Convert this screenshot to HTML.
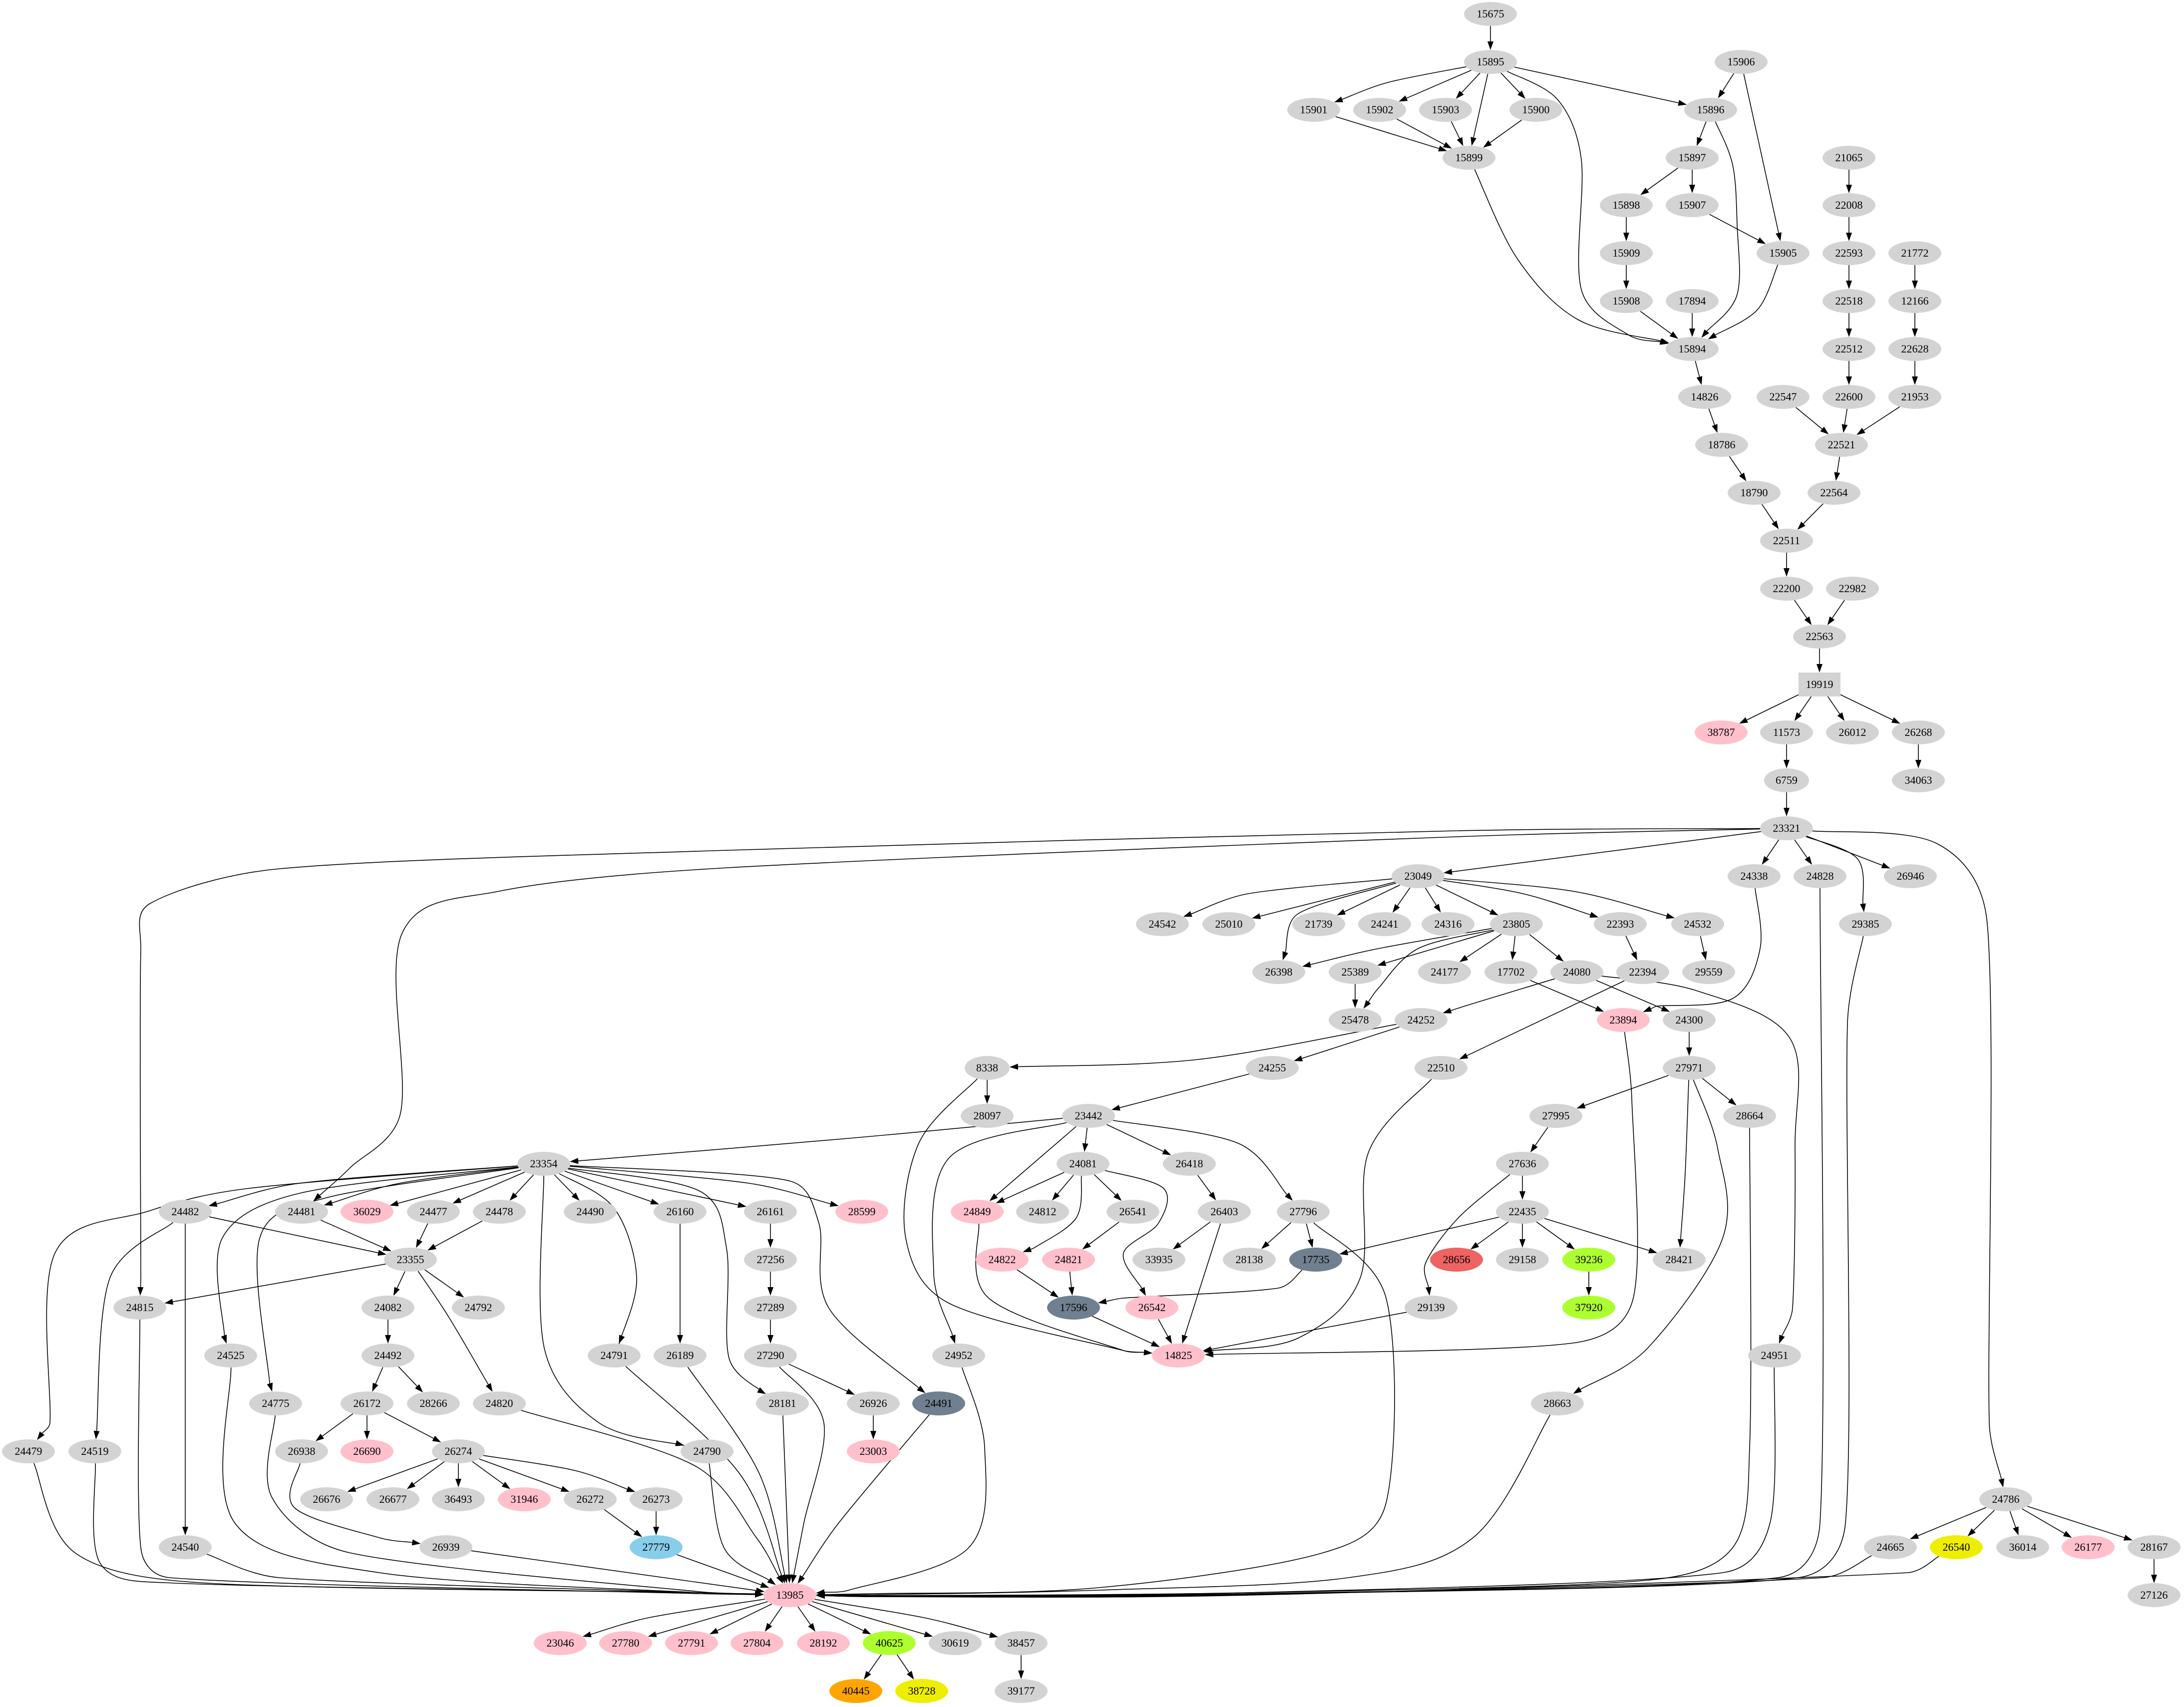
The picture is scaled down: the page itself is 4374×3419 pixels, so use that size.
<!DOCTYPE html>
<html><head><meta charset="utf-8"><style>
html,body{margin:0;padding:0;background:#fff}
svg{display:block}
text{font-family:"Liberation Serif","DejaVu Serif",serif;font-size:22px;text-anchor:middle;fill:#000}
</style></head><body>
<svg id="s" width="4374" height="3419" viewBox="0 0 4374 3419" xmlns="http://www.w3.org/2000/svg">
<rect width="4374" height="3419" fill="#fff"/>
<g id="edges"></g>
<g id="nodes">
<ellipse id="n15675" cx="2985" cy="28" rx="53" ry="24" fill="#d3d3d3"/><text x="2985" y="35">15675</text>
<ellipse id="n15895" cx="2985" cy="124" rx="53" ry="24" fill="#d3d3d3"/><text x="2985" y="131">15895</text>
<ellipse id="n15906" cx="3487" cy="124" rx="53" ry="24" fill="#d3d3d3"/><text x="3487" y="131">15906</text>
<ellipse id="n15901" cx="2631" cy="220" rx="53" ry="24" fill="#d3d3d3"/><text x="2631" y="227">15901</text>
<ellipse id="n15902" cx="2763" cy="220" rx="53" ry="24" fill="#d3d3d3"/><text x="2763" y="227">15902</text>
<ellipse id="n15903" cx="2895" cy="220" rx="53" ry="24" fill="#d3d3d3"/><text x="2895" y="227">15903</text>
<ellipse id="n15900" cx="3076" cy="220" rx="53" ry="24" fill="#d3d3d3"/><text x="3076" y="227">15900</text>
<ellipse id="n15896" cx="3426" cy="220" rx="53" ry="24" fill="#d3d3d3"/><text x="3426" y="227">15896</text>
<ellipse id="n15899" cx="2942" cy="316" rx="53" ry="24" fill="#d3d3d3"/><text x="2942" y="323">15899</text>
<ellipse id="n15897" cx="3389" cy="316" rx="53" ry="24" fill="#d3d3d3"/><text x="3389" y="323">15897</text>
<ellipse id="n21065" cx="3703" cy="316" rx="53" ry="24" fill="#d3d3d3"/><text x="3703" y="323">21065</text>
<ellipse id="n15898" cx="3257" cy="411" rx="53" ry="24" fill="#d3d3d3"/><text x="3257" y="418">15898</text>
<ellipse id="n15907" cx="3389" cy="411" rx="53" ry="24" fill="#d3d3d3"/><text x="3389" y="418">15907</text>
<ellipse id="n22008" cx="3703" cy="411" rx="53" ry="24" fill="#d3d3d3"/><text x="3703" y="418">22008</text>
<ellipse id="n15909" cx="3257" cy="507" rx="53" ry="24" fill="#d3d3d3"/><text x="3257" y="514">15909</text>
<ellipse id="n15905" cx="3571" cy="507" rx="53" ry="24" fill="#d3d3d3"/><text x="3571" y="514">15905</text>
<ellipse id="n22593" cx="3703" cy="507" rx="53" ry="24" fill="#d3d3d3"/><text x="3703" y="514">22593</text>
<ellipse id="n21772" cx="3835" cy="507" rx="53" ry="24" fill="#d3d3d3"/><text x="3835" y="514">21772</text>
<ellipse id="n15908" cx="3257" cy="603" rx="53" ry="24" fill="#d3d3d3"/><text x="3257" y="610">15908</text>
<ellipse id="n17894" cx="3389" cy="603" rx="53" ry="24" fill="#d3d3d3"/><text x="3389" y="610">17894</text>
<ellipse id="n22518" cx="3703" cy="603" rx="53" ry="24" fill="#d3d3d3"/><text x="3703" y="610">22518</text>
<ellipse id="n12166" cx="3835" cy="603" rx="53" ry="24" fill="#d3d3d3"/><text x="3835" y="610">12166</text>
<ellipse id="n15894" cx="3389" cy="699" rx="53" ry="24" fill="#d3d3d3"/><text x="3389" y="706">15894</text>
<ellipse id="n22512" cx="3703" cy="699" rx="53" ry="24" fill="#d3d3d3"/><text x="3703" y="706">22512</text>
<ellipse id="n22628" cx="3835" cy="699" rx="53" ry="24" fill="#d3d3d3"/><text x="3835" y="706">22628</text>
<ellipse id="n14826" cx="3414" cy="795" rx="53" ry="24" fill="#d3d3d3"/><text x="3414" y="802">14826</text>
<ellipse id="n22547" cx="3571" cy="795" rx="53" ry="24" fill="#d3d3d3"/><text x="3571" y="802">22547</text>
<ellipse id="n22600" cx="3703" cy="795" rx="53" ry="24" fill="#d3d3d3"/><text x="3703" y="802">22600</text>
<ellipse id="n21953" cx="3835" cy="795" rx="53" ry="24" fill="#d3d3d3"/><text x="3835" y="802">21953</text>
<ellipse id="n18786" cx="3448" cy="891" rx="53" ry="24" fill="#d3d3d3"/><text x="3448" y="898">18786</text>
<ellipse id="n22521" cx="3688" cy="891" rx="53" ry="24" fill="#d3d3d3"/><text x="3688" y="898">22521</text>
<ellipse id="n18790" cx="3513" cy="987" rx="53" ry="24" fill="#d3d3d3"/><text x="3513" y="994">18790</text>
<ellipse id="n22564" cx="3673" cy="987" rx="53" ry="24" fill="#d3d3d3"/><text x="3673" y="994">22564</text>
<ellipse id="n22511" cx="3578" cy="1083" rx="53" ry="24" fill="#d3d3d3"/><text x="3578" y="1090">22511</text>
<ellipse id="n22200" cx="3578" cy="1179" rx="53" ry="24" fill="#d3d3d3"/><text x="3578" y="1186">22200</text>
<ellipse id="n22982" cx="3710" cy="1179" rx="53" ry="24" fill="#d3d3d3"/><text x="3710" y="1186">22982</text>
<ellipse id="n22563" cx="3644" cy="1275" rx="53" ry="24" fill="#d3d3d3"/><text x="3644" y="1282">22563</text>
<rect x="3602" y="1347" width="84" height="48" fill="#d3d3d3"/><ellipse id="n19919" cx="3644" cy="1371" rx="42" ry="24" fill="none"/><text x="3644" y="1378">19919</text>
<ellipse id="n38787" cx="3447" cy="1467" rx="53" ry="24" fill="#ffc0cb"/><text x="3447" y="1474">38787</text>
<ellipse id="n11573" cx="3578" cy="1467" rx="53" ry="24" fill="#d3d3d3"/><text x="3578" y="1474">11573</text>
<ellipse id="n26012" cx="3710" cy="1467" rx="53" ry="24" fill="#d3d3d3"/><text x="3710" y="1474">26012</text>
<ellipse id="n26268" cx="3842" cy="1467" rx="53" ry="24" fill="#d3d3d3"/><text x="3842" y="1474">26268</text>
<ellipse id="n6759" cx="3578" cy="1563" rx="45" ry="24" fill="#d3d3d3"/><text x="3578" y="1570">6759</text>
<ellipse id="n34063" cx="3842" cy="1563" rx="53" ry="24" fill="#d3d3d3"/><text x="3842" y="1570">34063</text>
<ellipse id="n23321" cx="3578" cy="1659" rx="53" ry="24" fill="#d3d3d3"/><text x="3578" y="1666">23321</text>
<ellipse id="n23049" cx="2840" cy="1755" rx="53" ry="24" fill="#d3d3d3"/><text x="2840" y="1762">23049</text>
<ellipse id="n24338" cx="3513" cy="1755" rx="53" ry="24" fill="#d3d3d3"/><text x="3513" y="1762">24338</text>
<ellipse id="n24828" cx="3645" cy="1755" rx="53" ry="24" fill="#d3d3d3"/><text x="3645" y="1762">24828</text>
<ellipse id="n26946" cx="3826" cy="1755" rx="53" ry="24" fill="#d3d3d3"/><text x="3826" y="1762">26946</text>
<ellipse id="n24542" cx="2328" cy="1851" rx="53" ry="24" fill="#d3d3d3"/><text x="2328" y="1858">24542</text>
<ellipse id="n25010" cx="2461" cy="1851" rx="53" ry="24" fill="#d3d3d3"/><text x="2461" y="1858">25010</text>
<ellipse id="n21739" cx="2641" cy="1851" rx="53" ry="24" fill="#d3d3d3"/><text x="2641" y="1858">21739</text>
<ellipse id="n24241" cx="2773" cy="1851" rx="53" ry="24" fill="#d3d3d3"/><text x="2773" y="1858">24241</text>
<ellipse id="n24316" cx="2900" cy="1851" rx="53" ry="24" fill="#d3d3d3"/><text x="2900" y="1858">24316</text>
<ellipse id="n23805" cx="3037" cy="1851" rx="53" ry="24" fill="#d3d3d3"/><text x="3037" y="1858">23805</text>
<ellipse id="n22393" cx="3245" cy="1851" rx="53" ry="24" fill="#d3d3d3"/><text x="3245" y="1858">22393</text>
<ellipse id="n24532" cx="3400" cy="1851" rx="53" ry="24" fill="#d3d3d3"/><text x="3400" y="1858">24532</text>
<ellipse id="n29385" cx="3736" cy="1851" rx="53" ry="24" fill="#d3d3d3"/><text x="3736" y="1858">29385</text>
<ellipse id="n26398" cx="2561" cy="1947" rx="53" ry="24" fill="#d3d3d3"/><text x="2561" y="1954">26398</text>
<ellipse id="n25389" cx="2714" cy="1947" rx="53" ry="24" fill="#d3d3d3"/><text x="2714" y="1954">25389</text>
<ellipse id="n24177" cx="2893" cy="1947" rx="53" ry="24" fill="#d3d3d3"/><text x="2893" y="1954">24177</text>
<ellipse id="n17702" cx="3026" cy="1947" rx="53" ry="24" fill="#d3d3d3"/><text x="3026" y="1954">17702</text>
<ellipse id="n24080" cx="3158" cy="1947" rx="53" ry="24" fill="#d3d3d3"/><text x="3158" y="1954">24080</text>
<ellipse id="n22394" cx="3290" cy="1947" rx="53" ry="24" fill="#d3d3d3"/><text x="3290" y="1954">22394</text>
<ellipse id="n29559" cx="3422" cy="1947" rx="53" ry="24" fill="#d3d3d3"/><text x="3422" y="1954">29559</text>
<ellipse id="n25478" cx="2714" cy="2043" rx="53" ry="24" fill="#d3d3d3"/><text x="2714" y="2050">25478</text>
<ellipse id="n24252" cx="2846" cy="2043" rx="53" ry="24" fill="#d3d3d3"/><text x="2846" y="2050">24252</text>
<ellipse id="n23894" cx="3251" cy="2043" rx="53" ry="24" fill="#ffc0cb"/><text x="3251" y="2050">23894</text>
<ellipse id="n24300" cx="3383" cy="2043" rx="53" ry="24" fill="#d3d3d3"/><text x="3383" y="2050">24300</text>
<ellipse id="n8338" cx="1977" cy="2139" rx="45" ry="24" fill="#d3d3d3"/><text x="1977" y="2146">8338</text>
<ellipse id="n24255" cx="2548" cy="2139" rx="53" ry="24" fill="#d3d3d3"/><text x="2548" y="2146">24255</text>
<ellipse id="n22510" cx="2886" cy="2139" rx="53" ry="24" fill="#d3d3d3"/><text x="2886" y="2146">22510</text>
<ellipse id="n27971" cx="3383" cy="2139" rx="53" ry="24" fill="#d3d3d3"/><text x="3383" y="2146">27971</text>
<ellipse id="n28097" cx="1977" cy="2235" rx="53" ry="24" fill="#d3d3d3"/><text x="1977" y="2242">28097</text>
<ellipse id="n23442" cx="2180" cy="2235" rx="53" ry="24" fill="#d3d3d3"/><text x="2180" y="2242">23442</text>
<ellipse id="n27995" cx="3116" cy="2235" rx="53" ry="24" fill="#d3d3d3"/><text x="3116" y="2242">27995</text>
<ellipse id="n28664" cx="3504" cy="2235" rx="53" ry="24" fill="#d3d3d3"/><text x="3504" y="2242">28664</text>
<ellipse id="n23354" cx="1089" cy="2331" rx="53" ry="24" fill="#d3d3d3"/><text x="1089" y="2338">23354</text>
<ellipse id="n24081" cx="2169" cy="2331" rx="53" ry="24" fill="#d3d3d3"/><text x="2169" y="2338">24081</text>
<ellipse id="n26418" cx="2382" cy="2331" rx="53" ry="24" fill="#d3d3d3"/><text x="2382" y="2338">26418</text>
<ellipse id="n27636" cx="3049" cy="2331" rx="53" ry="24" fill="#d3d3d3"/><text x="3049" y="2338">27636</text>
<ellipse id="n24482" cx="371" cy="2427" rx="53" ry="24" fill="#d3d3d3"/><text x="371" y="2434">24482</text>
<ellipse id="n24481" cx="604" cy="2427" rx="53" ry="24" fill="#d3d3d3"/><text x="604" y="2434">24481</text>
<ellipse id="n36029" cx="735" cy="2427" rx="53" ry="24" fill="#ffc0cb"/><text x="735" y="2434">36029</text>
<ellipse id="n24477" cx="868" cy="2427" rx="53" ry="24" fill="#d3d3d3"/><text x="868" y="2434">24477</text>
<ellipse id="n24478" cx="1000" cy="2427" rx="53" ry="24" fill="#d3d3d3"/><text x="1000" y="2434">24478</text>
<ellipse id="n24490" cx="1182" cy="2427" rx="53" ry="24" fill="#d3d3d3"/><text x="1182" y="2434">24490</text>
<ellipse id="n26160" cx="1362" cy="2427" rx="53" ry="24" fill="#d3d3d3"/><text x="1362" y="2434">26160</text>
<ellipse id="n26161" cx="1543" cy="2427" rx="53" ry="24" fill="#d3d3d3"/><text x="1543" y="2434">26161</text>
<ellipse id="n28599" cx="1726" cy="2427" rx="53" ry="24" fill="#ffc0cb"/><text x="1726" y="2434">28599</text>
<ellipse id="n24849" cx="1957" cy="2427" rx="53" ry="24" fill="#ffc0cb"/><text x="1957" y="2434">24849</text>
<ellipse id="n24812" cx="2088" cy="2427" rx="53" ry="24" fill="#d3d3d3"/><text x="2088" y="2434">24812</text>
<ellipse id="n26541" cx="2269" cy="2427" rx="53" ry="24" fill="#d3d3d3"/><text x="2269" y="2434">26541</text>
<ellipse id="n26403" cx="2452" cy="2427" rx="53" ry="24" fill="#d3d3d3"/><text x="2452" y="2434">26403</text>
<ellipse id="n27796" cx="2610" cy="2427" rx="53" ry="24" fill="#d3d3d3"/><text x="2610" y="2434">27796</text>
<ellipse id="n22435" cx="3049" cy="2427" rx="53" ry="24" fill="#d3d3d3"/><text x="3049" y="2434">22435</text>
<ellipse id="n23355" cx="822" cy="2523" rx="53" ry="24" fill="#d3d3d3"/><text x="822" y="2530">23355</text>
<ellipse id="n27256" cx="1543" cy="2523" rx="53" ry="24" fill="#d3d3d3"/><text x="1543" y="2530">27256</text>
<ellipse id="n24822" cx="2007" cy="2523" rx="53" ry="24" fill="#ffc0cb"/><text x="2007" y="2530">24822</text>
<ellipse id="n24821" cx="2140" cy="2523" rx="53" ry="24" fill="#ffc0cb"/><text x="2140" y="2530">24821</text>
<ellipse id="n33935" cx="2321" cy="2523" rx="53" ry="24" fill="#d3d3d3"/><text x="2321" y="2530">33935</text>
<ellipse id="n28138" cx="2502" cy="2523" rx="53" ry="24" fill="#d3d3d3"/><text x="2502" y="2530">28138</text>
<ellipse id="n17735" cx="2635" cy="2523" rx="53" ry="24" fill="#708090"/><text x="2635" y="2530">17735</text>
<ellipse id="n28656" cx="2917" cy="2523" rx="53" ry="24" fill="#ee6363"/><text x="2917" y="2530">28656</text>
<ellipse id="n29158" cx="3049" cy="2523" rx="53" ry="24" fill="#d3d3d3"/><text x="3049" y="2530">29158</text>
<ellipse id="n39236" cx="3182" cy="2523" rx="53" ry="24" fill="#adff2f"/><text x="3182" y="2530">39236</text>
<ellipse id="n28421" cx="3363" cy="2523" rx="53" ry="24" fill="#d3d3d3"/><text x="3363" y="2530">28421</text>
<ellipse id="n24815" cx="280" cy="2619" rx="53" ry="24" fill="#d3d3d3"/><text x="280" y="2626">24815</text>
<ellipse id="n24082" cx="777" cy="2619" rx="53" ry="24" fill="#d3d3d3"/><text x="777" y="2626">24082</text>
<ellipse id="n24792" cx="958" cy="2619" rx="53" ry="24" fill="#d3d3d3"/><text x="958" y="2626">24792</text>
<ellipse id="n27289" cx="1543" cy="2619" rx="53" ry="24" fill="#d3d3d3"/><text x="1543" y="2626">27289</text>
<ellipse id="n17596" cx="2150" cy="2619" rx="53" ry="24" fill="#708090"/><text x="2150" y="2626">17596</text>
<ellipse id="n26542" cx="2307" cy="2619" rx="53" ry="24" fill="#ffc0cb"/><text x="2307" y="2626">26542</text>
<ellipse id="n29139" cx="2866" cy="2619" rx="53" ry="24" fill="#d3d3d3"/><text x="2866" y="2626">29139</text>
<ellipse id="n37920" cx="3182" cy="2619" rx="53" ry="24" fill="#adff2f"/><text x="3182" y="2626">37920</text>
<ellipse id="n24525" cx="462" cy="2715" rx="53" ry="24" fill="#d3d3d3"/><text x="462" y="2722">24525</text>
<ellipse id="n24492" cx="777" cy="2715" rx="53" ry="24" fill="#d3d3d3"/><text x="777" y="2722">24492</text>
<ellipse id="n24791" cx="1230" cy="2715" rx="53" ry="24" fill="#d3d3d3"/><text x="1230" y="2722">24791</text>
<ellipse id="n26189" cx="1362" cy="2715" rx="53" ry="24" fill="#d3d3d3"/><text x="1362" y="2722">26189</text>
<ellipse id="n27290" cx="1543" cy="2715" rx="53" ry="24" fill="#d3d3d3"/><text x="1543" y="2722">27290</text>
<ellipse id="n24952" cx="1920" cy="2715" rx="53" ry="24" fill="#d3d3d3"/><text x="1920" y="2722">24952</text>
<ellipse id="n14825" cx="2360" cy="2715" rx="53" ry="24" fill="#ffc0cb"/><text x="2360" y="2722">14825</text>
<ellipse id="n24951" cx="3554" cy="2715" rx="53" ry="24" fill="#d3d3d3"/><text x="3554" y="2722">24951</text>
<ellipse id="n24775" cx="552" cy="2811" rx="53" ry="24" fill="#d3d3d3"/><text x="552" y="2818">24775</text>
<ellipse id="n26172" cx="735" cy="2811" rx="53" ry="24" fill="#d3d3d3"/><text x="735" y="2818">26172</text>
<ellipse id="n28266" cx="868" cy="2811" rx="53" ry="24" fill="#d3d3d3"/><text x="868" y="2818">28266</text>
<ellipse id="n24820" cx="1000" cy="2811" rx="53" ry="24" fill="#d3d3d3"/><text x="1000" y="2818">24820</text>
<ellipse id="n28181" cx="1567" cy="2811" rx="53" ry="24" fill="#d3d3d3"/><text x="1567" y="2818">28181</text>
<ellipse id="n26926" cx="1749" cy="2811" rx="53" ry="24" fill="#d3d3d3"/><text x="1749" y="2818">26926</text>
<ellipse id="n24491" cx="1880" cy="2811" rx="53" ry="24" fill="#708090"/><text x="1880" y="2818">24491</text>
<ellipse id="n28663" cx="3119" cy="2811" rx="53" ry="24" fill="#d3d3d3"/><text x="3119" y="2818">28663</text>
<ellipse id="n24479" cx="57" cy="2907" rx="53" ry="24" fill="#d3d3d3"/><text x="57" y="2914">24479</text>
<ellipse id="n24519" cx="190" cy="2907" rx="53" ry="24" fill="#d3d3d3"/><text x="190" y="2914">24519</text>
<ellipse id="n26938" cx="604" cy="2907" rx="53" ry="24" fill="#d3d3d3"/><text x="604" y="2914">26938</text>
<ellipse id="n26690" cx="735" cy="2907" rx="53" ry="24" fill="#ffc0cb"/><text x="735" y="2914">26690</text>
<ellipse id="n26274" cx="918" cy="2907" rx="53" ry="24" fill="#d3d3d3"/><text x="918" y="2914">26274</text>
<ellipse id="n24790" cx="1416" cy="2907" rx="53" ry="24" fill="#d3d3d3"/><text x="1416" y="2914">24790</text>
<ellipse id="n23003" cx="1749" cy="2907" rx="53" ry="24" fill="#ffc0cb"/><text x="1749" y="2914">23003</text>
<ellipse id="n26676" cx="654" cy="3003" rx="53" ry="24" fill="#d3d3d3"/><text x="654" y="3010">26676</text>
<ellipse id="n26677" cx="787" cy="3003" rx="53" ry="24" fill="#d3d3d3"/><text x="787" y="3010">26677</text>
<ellipse id="n36493" cx="918" cy="3003" rx="53" ry="24" fill="#d3d3d3"/><text x="918" y="3010">36493</text>
<ellipse id="n31946" cx="1050" cy="3003" rx="53" ry="24" fill="#ffc0cb"/><text x="1050" y="3010">31946</text>
<ellipse id="n26272" cx="1182" cy="3003" rx="53" ry="24" fill="#d3d3d3"/><text x="1182" y="3010">26272</text>
<ellipse id="n26273" cx="1314" cy="3003" rx="53" ry="24" fill="#d3d3d3"/><text x="1314" y="3010">26273</text>
<ellipse id="n24786" cx="4017" cy="3003" rx="53" ry="24" fill="#d3d3d3"/><text x="4017" y="3010">24786</text>
<ellipse id="n24540" cx="371" cy="3099" rx="53" ry="24" fill="#d3d3d3"/><text x="371" y="3106">24540</text>
<ellipse id="n26939" cx="893" cy="3099" rx="53" ry="24" fill="#d3d3d3"/><text x="893" y="3106">26939</text>
<ellipse id="n27779" cx="1314" cy="3099" rx="53" ry="24" fill="#87ceeb"/><text x="1314" y="3106">27779</text>
<ellipse id="n24665" cx="3786" cy="3099" rx="53" ry="24" fill="#d3d3d3"/><text x="3786" y="3106">24665</text>
<ellipse id="n26540" cx="3918" cy="3099" rx="53" ry="24" fill="#eeee00"/><text x="3918" y="3106">26540</text>
<ellipse id="n36014" cx="4051" cy="3099" rx="53" ry="24" fill="#d3d3d3"/><text x="4051" y="3106">36014</text>
<ellipse id="n26177" cx="4182" cy="3099" rx="53" ry="24" fill="#ffc0cb"/><text x="4182" y="3106">26177</text>
<ellipse id="n28167" cx="4314" cy="3099" rx="53" ry="24" fill="#d3d3d3"/><text x="4314" y="3106">28167</text>
<ellipse id="n13985" cx="1582" cy="3195" rx="53" ry="24" fill="#ffc0cb"/><text x="1582" y="3202">13985</text>
<ellipse id="n27126" cx="4314" cy="3195" rx="53" ry="24" fill="#d3d3d3"/><text x="4314" y="3202">27126</text>
<ellipse id="n23046" cx="1122" cy="3291" rx="53" ry="24" fill="#ffc0cb"/><text x="1122" y="3298">23046</text>
<ellipse id="n27780" cx="1253" cy="3291" rx="53" ry="24" fill="#ffc0cb"/><text x="1253" y="3298">27780</text>
<ellipse id="n27791" cx="1385" cy="3291" rx="53" ry="24" fill="#ffc0cb"/><text x="1385" y="3298">27791</text>
<ellipse id="n27804" cx="1516" cy="3291" rx="53" ry="24" fill="#ffc0cb"/><text x="1516" y="3298">27804</text>
<ellipse id="n28192" cx="1649" cy="3291" rx="53" ry="24" fill="#ffc0cb"/><text x="1649" y="3298">28192</text>
<ellipse id="n40625" cx="1781" cy="3291" rx="53" ry="24" fill="#adff2f"/><text x="1781" y="3298">40625</text>
<ellipse id="n30619" cx="1913" cy="3291" rx="53" ry="24" fill="#d3d3d3"/><text x="1913" y="3298">30619</text>
<ellipse id="n38457" cx="2045" cy="3291" rx="53" ry="24" fill="#d3d3d3"/><text x="2045" y="3298">38457</text>
<ellipse id="n40445" cx="1714" cy="3387" rx="53" ry="24" fill="#ffa500"/><text x="1714" y="3394">40445</text>
<ellipse id="n38728" cx="1846" cy="3387" rx="53" ry="24" fill="#eeee00"/><text x="1846" y="3394">38728</text>
<ellipse id="n39177" cx="2045" cy="3387" rx="53" ry="24" fill="#d3d3d3"/><text x="2045" y="3394">39177</text>
</g>
</svg>
<script>
(function(){
var NS="http://www.w3.org/2000/svg";
var G=document.getElementById("edges");
function nd(id){var e=document.getElementById("n"+id);return{x:+e.getAttribute("cx"),y:+e.getAttribute("cy"),rx:+e.getAttribute("rx"),ry:+e.getAttribute("ry"),box:id=="19919"};}
function bnd(n,dx,dy){var L=Math.sqrt(dx*dx+dy*dy)||1;var ux=dx/L,uy=dy/L;var t;
 if(n.box){t=Math.min(n.rx/Math.max(Math.abs(ux),1e-6),n.ry/Math.max(Math.abs(uy),1e-6));}
 else{t=1/Math.sqrt((ux/n.rx)*(ux/n.rx)+(uy/n.ry)*(uy/n.ry));}
 return [n.x+ux*t,n.y+uy*t,ux,uy];}
function lim(v,m){var L=Math.sqrt(v[0]*v[0]+v[1]*v[1]);if(L>m&&L>0){return [v[0]*m/L,v[1]*m/L];}return v;}
function dist(a,b){return Math.sqrt((a[0]-b[0])*(a[0]-b[0])+(a[1]-b[1])*(a[1]-b[1]));}
function E(a,b,w){var A=nd(a),B=nd(b);w=w||[];
 var pts=[[A.x,A.y]].concat(w).concat([[B.x,B.y]]);
 var n1=pts[1];var s=bnd(A,n1[0]-A.x,n1[1]-A.y);pts[0]=[s[0],s[1]];
 var pv=pts[pts.length-2];var e=bnd(B,pv[0]-B.x,pv[1]-B.y);
 var tip=[e[0],e[1]];var ux=-e[2],uy=-e[3];var AL=17,AW=6;
 var endp=[tip[0]-ux*AL,tip[1]-uy*AL];pts[pts.length-1]=endp;
 var d="M"+pts[0][0].toFixed(1)+","+pts[0][1].toFixed(1);
 if(pts.length==2){d+=" L"+endp[0].toFixed(1)+","+endp[1].toFixed(1);}
 else{for(var i=0;i<pts.length-1;i++){var p0=pts[Math.max(i-1,0)],p1=pts[i],p2=pts[i+1],p3=pts[Math.min(i+2,pts.length-1)];
  var sl=dist(p1,p2)*0.4;
  var t1=lim([(p2[0]-p0[0])/6,(p2[1]-p0[1])/6],sl),t2=lim([(p3[0]-p1[0])/6,(p3[1]-p1[1])/6],sl);
  var c1=[p1[0]+t1[0],p1[1]+t1[1]],c2=[p2[0]-t2[0],p2[1]-t2[1]];
  d+=" C"+c1[0].toFixed(1)+","+c1[1].toFixed(1)+" "+c2[0].toFixed(1)+","+c2[1].toFixed(1)+" "+p2[0].toFixed(1)+","+p2[1].toFixed(1);}}
 var p=document.createElementNS(NS,"path");p.setAttribute("d",d);p.setAttribute("fill","none");p.setAttribute("stroke","#000");p.setAttribute("stroke-width","1.6");G.appendChild(p);
 var h=document.createElementNS(NS,"polygon");
 var bx=endp[0],by=endp[1];var px=-uy,py=ux;
 h.setAttribute("points",tip[0]+","+tip[1]+" "+(bx+px*AW)+","+(by+py*AW)+" "+(bx-px*AW)+","+(by-py*AW));
 h.setAttribute("fill","#000");G.appendChild(h);}
// top
E("15675","15895");E("15895","15901",[[2780,165]]);E("15895","15902");E("15895","15903");E("15895","15900");
E("15895","15899");E("15895","15896");E("15895","15894",[[3120,200],[3167,320],[3167,580],[3260,670]]);
E("15906","15896");E("15906","15905");
E("15901","15899");E("15902","15899");E("15903","15899");E("15900","15899");
E("15899","15894",[[3040,520],[3160,640]]);
E("15896","15897");E("15896","15894",[[3470,330],[3479,450],[3479,590]]);
E("15897","15898");E("15897","15907");E("15898","15909");E("15909","15908");
E("15908","15894");E("17894","15894");E("15907","15905");E("15905","15894",[[3520,620]]);
E("15894","14826");E("14826","18786");E("18786","18790");E("18790","22511");
E("21065","22008");E("22008","22593");E("22593","22518");E("22518","22512");E("22512","22600");E("22600","22521");
E("21772","12166");E("12166","22628");E("22628","21953");E("21953","22521");E("22547","22521");
E("22521","22564");E("22564","22511");E("22511","22200");E("22200","22563");E("22982","22563");
E("22563","19919");E("19919","38787");E("19919","11573");E("19919","26012");E("19919","26268");
E("26268","34063");E("11573","6759");E("6759","23321");
// 23321
E("23321","23049");E("23321","24338");E("23321","24828");E("23321","26946");
E("23321","29385",[[3720,1720]]);
E("23321","24786",[[3880,1690],[3980,1850],[3984,2850]]);
E("23321","24815",[[2916,1664],[1458,1703],[560,1740],[300,1810],[282,1900],[282,2560]]);
E("23321","24481",[[2916,1676],[1458,1738],[1000,1785],[805,1870],[802,2230],[700,2340]]);
// 23049
E("23049","24542",[[2500,1790]]);E("23049","25010");E("23049","21739");E("23049","24241");E("23049","24316");
E("23049","23805");E("23049","22393",[[3050,1790]]);E("23049","24532",[[3150,1785]]);
E("23049","26398",[[2600,1830]]);
E("23805","26398",[[2760,1900]]);E("23805","25389");E("23805","25478",[[2840,1900],[2760,1980]]);
E("23805","24177");E("23805","17702");E("23805","24080");
E("25389","25478");E("22393","22394");E("24532","29559");
E("24080","24252",[[2950,2010]]);E("24080","24300");
E("24080","24951",[[3400,1985],[3585,2080],[3595,2300],[3590,2620]]);
E("17702","23894");E("22394","22510");
E("24338","23894",[[3525,1900],[3470,2000],[3320,2015]]);
E("24252","8338",[[2400,2122]]);E("24252","24255");
E("24255","23442");E("8338","28097");
E("8338","14825",[[1840,2290],[1814,2480],[1900,2610],[2250,2705]]);
E("22510","14825",[[2740,2310],[2724,2560],[2600,2680]]);
E("23894","14825",[[3268,2200],[3271,2600],[3150,2690]]);
E("24300","27971");E("27971","27995");E("27971","28664");E("27971","28421",[[3375,2350]]);
E("27971","28663",[[3440,2300],[3450,2480],[3300,2700]]);
E("27995","27636");E("27636","22435");E("27636","29139",[[2920,2440],[2855,2530]]);
E("22435","17735");E("22435","28656");E("22435","29158");E("22435","39236");E("22435","28421");
E("39236","37920");E("29139","14825");
// 23442
E("23442","23354",[[1700,2280]]);E("23442","24081");E("23442","24849");E("23442","26418");
E("23442","27796",[[2480,2290]]);
E("23442","24952",[[1900,2320],[1870,2550]]);
E("24081","24849");E("24081","24812");E("24081","26541");
E("24081","24822",[[2155,2440],[2070,2500]]);
E("24081","26542",[[2330,2380],[2320,2450],[2250,2510]]);
E("26541","24821");E("24821","17596");E("24822","17596");
E("17596","14825");E("24849","14825",[[1980,2600],[2250,2705]]);E("26542","14825");
E("26418","26403");E("26403","33935");E("26403","14825");
E("27796","28138");E("27796","17735");E("17735","17596",[[2560,2580],[2250,2600]]);
// 23354
E("23354","24482",[[600,2370]]);E("23354","24481",[[800,2370]]);E("23354","36029");E("23354","24477");E("23354","24478");
E("23354","24490");E("23354","26160");E("23354","26161");E("23354","28599",[[1500,2370]]);
E("23354","24479",[[500,2380],[300,2425],[110,2510],[100,2850]]);
E("23354","24525",[[600,2390],[445,2480],[450,2680]]);
E("23354","24775",[[650,2400],[520,2480],[540,2770]]);
E("23354","24790",[[1090,2700],[1200,2850],[1370,2895]]);
E("23354","24791",[[1230,2420],[1275,2560],[1240,2690]]);
E("23354","28181",[[1400,2385],[1455,2500],[1460,2720],[1530,2790]]);
E("23354","24491",[[1580,2365],[1640,2450],[1660,2620],[1840,2780]]);
E("24482","23355");E("24482","24519",[[220,2560]]);E("24482","24540");
E("24481","23355");E("24477","23355");E("24478","23355");
E("23355","24815");E("23355","24082");E("23355","24792");E("23355","24820",[[900,2640]]);
E("24082","24492");E("24492","26172");E("24492","28266");
E("26172","26938");E("26172","26690");E("26172","26274");
E("26274","26676");E("26274","26677");E("26274","36493");E("26274","31946");E("26274","26272");E("26274","26273",[[1150,2945]]);
E("26272","27779");E("26273","27779");E("26938","26939",[[590,3020],[760,3080]]);
E("26160","26189");E("26161","27256");E("27256","27289");E("27289","27290");
E("27290","26926");E("26926","23003");
// into 13985
E("24479","13985",[[150,3110],[400,3170],[1400,3190]]);
E("24519","13985",[[200,3130],[330,3170],[1400,3190]]);
E("24540","13985",[[560,3160],[1400,3190]]);
E("24815","13985",[[282,3100],[340,3160],[1400,3192]]);
E("24525","13985",[[470,3050],[760,3150],[1400,3190]]);
E("24775","13985",[[545,3000],[700,3110],[1400,3188]]);
E("26939","13985");E("27779","13985");
E("24820","13985",[[1390,2935],[1515,3080]]);
E("24790","13985",[[1450,3100]]);
E("24791","13985",[[1480,2950]]);
E("26189","13985",[[1520,2950]]);
E("28181","13985");
E("27290","13985",[[1650,2850],[1610,3050]]);
E("24491","13985",[[1680,3050]]);
E("24952","13985",[[1972,2900],[1940,3100],[1700,3185]]);
E("27796","13985",[[2776,2600],[2776,3010],[2650,3110],[2200,3180],[1750,3192]]);
E("28663","13985",[[2950,3080],[2700,3160],[2200,3185],[1750,3194]]);
E("28664","13985",[[3504,2900],[3470,3100],[3300,3165],[2500,3190],[1750,3196]]);
E("24951","13985",[[3545,3050],[3450,3150],[2500,3190],[1750,3196]]);
E("24828","13985",[[3645,3050],[3560,3160],[2500,3192],[1750,3197]]);
E("29385","13985",[[3700,2050],[3696,3050],[3600,3160],[2500,3193],[1750,3197]]);
E("24665","13985",[[3650,3160],[2500,3194],[1750,3198]]);
E("26540","13985",[[3820,3150],[2500,3195],[1750,3198]]);
E("24786","24665");E("24786","26540");E("24786","36014");E("24786","26177");E("24786","28167");
E("28167","27126");
E("13985","23046",[[1300,3240]]);E("13985","27780");E("13985","27791");E("13985","27804");E("13985","28192");
E("13985","40625");E("13985","30619");E("13985","38457",[[1850,3240]]);
E("40625","40445");E("40625","38728");E("38457","39177");
})();
</script>
</body></html>
